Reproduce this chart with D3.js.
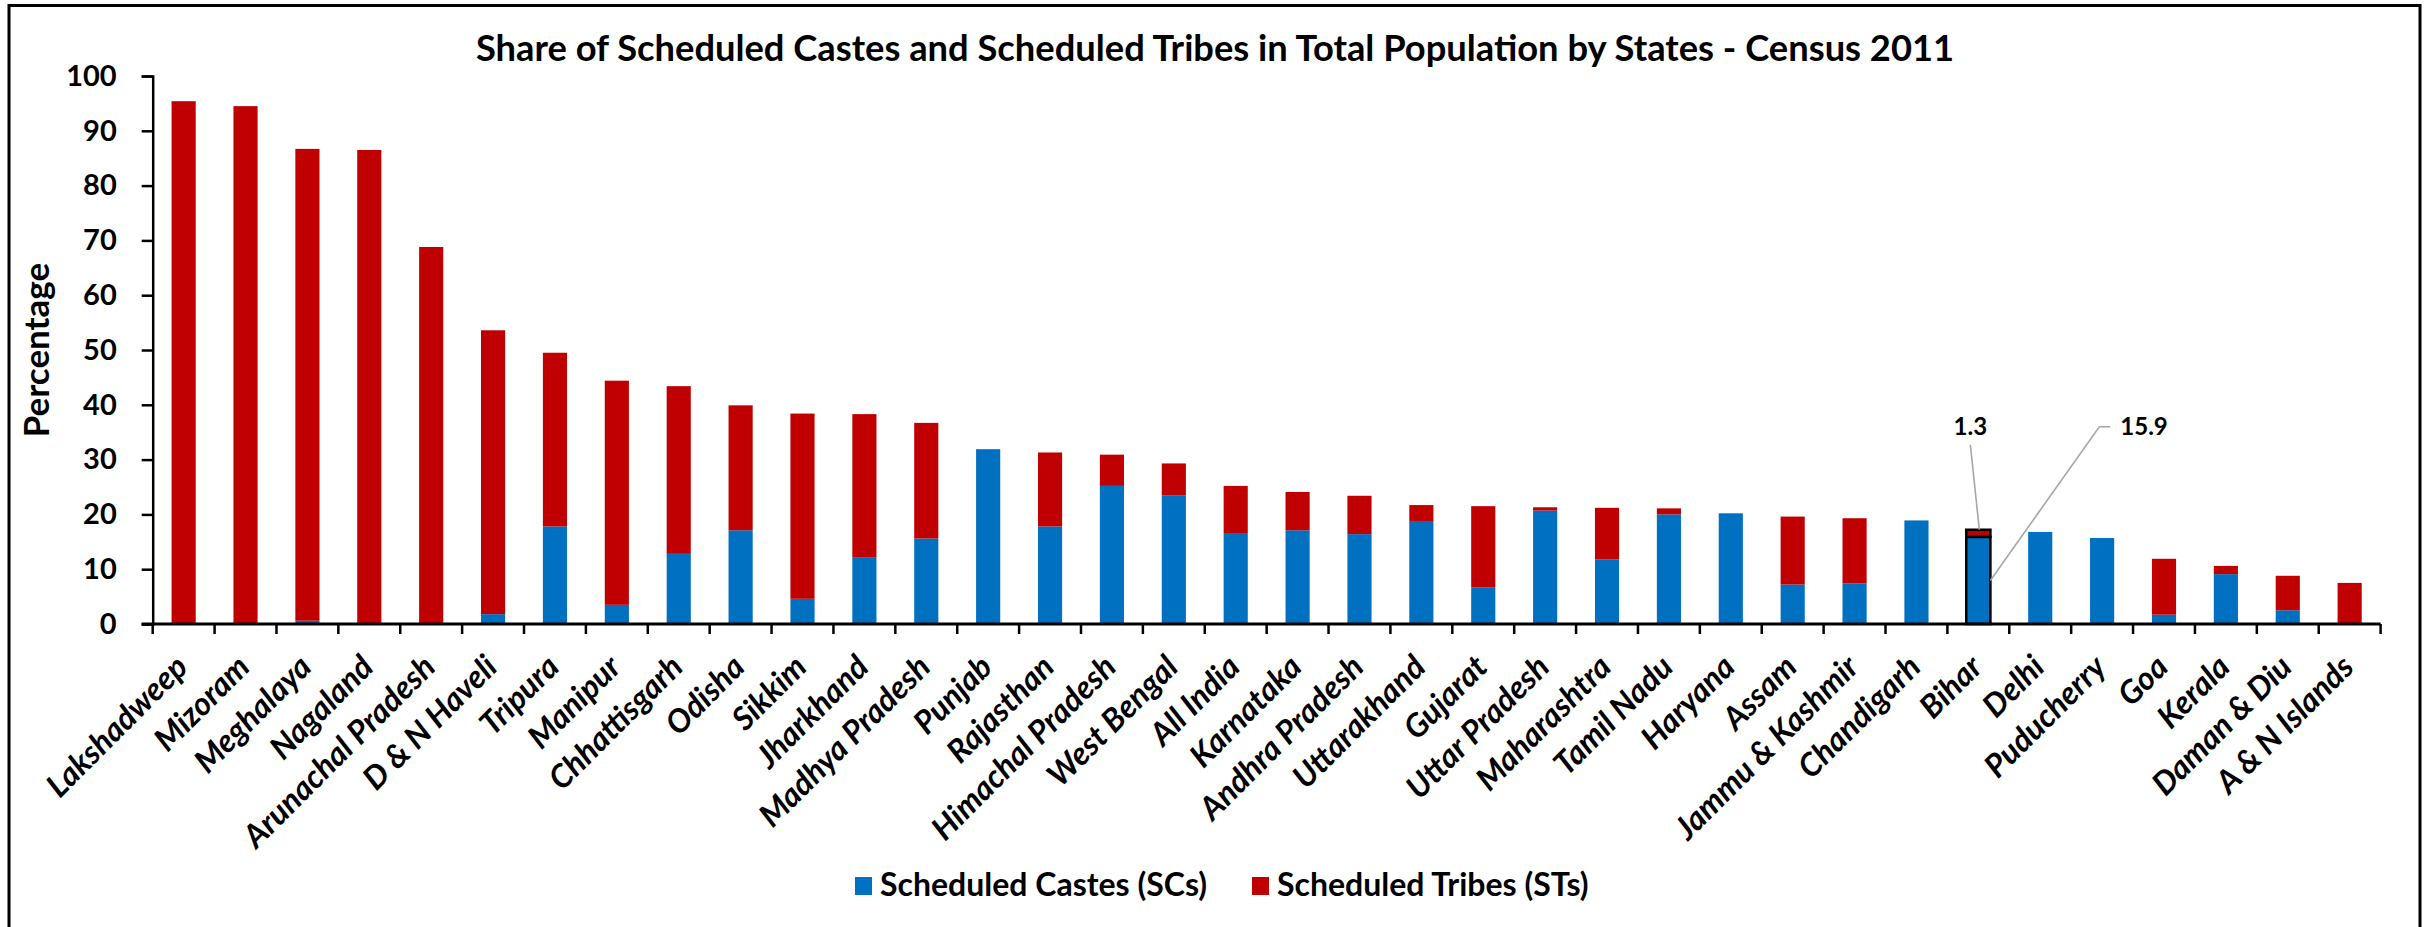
<!DOCTYPE html>
<html>
<head>
<meta charset="utf-8">
<script src="https://cdn.jsdelivr.net/npm/d3@7"></script>
<style>
  body { margin: 0; background: #fff; }
  svg { display: block; font-family: Lato, 'Open Sans', sans-serif; font-weight: bold; }
</style>
</head>
<body>
<svg id="chart" width="2435" height="927"></svg>
<script>
// Census 2011 shares.
var categories = ['Lakshadweep', 'Mizoram', 'Meghalaya', 'Nagaland', 'Arunachal Pradesh',
  'D & N Haveli', 'Tripura', 'Manipur', 'Chhattisgarh', 'Odisha', 'Sikkim', 'Jharkhand',
  'Madhya Pradesh', 'Punjab', 'Rajasthan', 'Himachal Pradesh', 'West Bengal', 'All India',
  'Karnataka', 'Andhra Pradesh', 'Uttarakhand', 'Gujarat', 'Uttar Pradesh', 'Maharashtra',
  'Tamil Nadu', 'Haryana', 'Assam', 'Jammu & Kashmir', 'Chandigarh', 'Bihar', 'Delhi',
  'Puducherry', 'Goa', 'Kerala', 'Daman & Diu', 'A & N Islands'];
var scValues = [0, 0.1, 0.6, 0, 0, 1.8, 17.8, 3.5, 12.8, 17.1, 4.6, 12.1,
  15.6, 31.9, 17.8, 25.2, 23.5, 16.6, 17.1, 16.4, 18.8, 6.7, 20.7, 11.8,
  20.0, 20.2, 7.2, 7.4, 18.9, 15.9, 16.8, 15.7, 1.7, 9.1, 2.5, 0];
var stValues = [95.4, 94.4, 86.1, 86.5, 68.8, 51.8, 31.7, 40.9, 30.6, 22.8, 33.8, 26.2,
  21.1, 0, 13.5, 5.7, 5.8, 8.6, 7.0, 7.0, 2.9, 14.8, 0.6, 9.4,
  1.1, 0, 12.4, 11.9, 0, 1.3, 0, 0, 10.2, 1.5, 6.3, 7.5];
var yTicks = [0, 10, 20, 30, 40, 50, 60, 70, 80, 90, 100];
var seriesKeys = ['sc', 'st'];
var seriesNames = ['Scheduled Castes (SCs)', 'Scheduled Tribes (STs)'];
var seriesColors = ['#0070C0', '#C00000'];
var highlight = 'Bihar';

(function() {
  var svg = d3.select('#chart');
  var plotLeft = 152.7, plotRight = 2380.6, plotTop = 76, plotBottom = 624;

  var rows = categories.map(function(c, i) {
    return { name: c, sc: scValues[i], st: stValues[i] };
  });

  var x = d3.scaleBand()
    .domain(categories)
    .range([plotLeft, plotRight])
    .paddingInner(0.61)
    .paddingOuter(0.305);
  var y = d3.scaleLinear().domain([0, 100]).range([plotBottom, plotTop]);
  var color = d3.scaleOrdinal().domain(seriesKeys).range(seriesColors);

  // outer frame (bottom edge falls outside the picture)
  svg.append('rect')
    .attr('x', 9).attr('y', 5.5)
    .attr('width', 2411).attr('height', 940)
    .attr('fill', 'none').attr('stroke', '#000').attr('stroke-width', 3);

  svg.append('text')
    .attr('x', 1215).attr('y', 61)
    .attr('text-anchor', 'middle')
    .attr('font-size', 36.3)
    .text('Share of Scheduled Castes and Scheduled Tribes in Total Population by States - Census 2011');

  // stacked bars
  var stacked = d3.stack().keys(seriesKeys)(rows);
  svg.append('g').selectAll('g')
    .data(stacked)
    .enter().append('g')
      .attr('fill', function(s) { return color(s.key); })
    .selectAll('rect')
    .data(function(s) { return s; })
    .enter().append('rect')
      .attr('x', function(d) { return x(d.data.name); })
      .attr('width', x.bandwidth())
      .attr('y', function(d) { return y(d[1]); })
      .attr('height', function(d) { return y(d[0]) - y(d[1]); })
      .attr('stroke', function(d) { return d.data.name == highlight ? '#000' : null; })
      .attr('stroke-width', 2.5);

  // y axis
  var yAxis = svg.append('g')
    .attr('transform', 'translate(' + plotLeft + ',0)')
    .call(d3.axisLeft(y).tickValues(yTicks).tickSize(11).tickPadding(25));
  yAxis.select('.domain').attr('stroke-width', 2.5);
  yAxis.selectAll('.tick line').attr('stroke-width', 2.5);
  yAxis.selectAll('.tick text')
    .attr('font-size', 29)
    .attr('font-family', 'Lato, sans-serif')
    .attr('font-weight', 'bold')
    .attr('fill', '#000');

  // x axis: Excel style ticks between categories
  var half = (x.step() - x.bandwidth()) / 2;
  var edges = categories.map(function(c) { return x(c) - half; }).concat([plotRight]);
  var xAxis = svg.append('g');
  xAxis.append('line')
    .attr('x1', plotLeft - 11).attr('x2', plotRight)
    .attr('y1', plotBottom).attr('y2', plotBottom)
    .attr('stroke', '#000').attr('stroke-width', 3);
  xAxis.selectAll('.xtick')
    .data(edges)
    .enter().append('line')
      .attr('class', 'xtick')
      .attr('x1', function(d) { return d; }).attr('x2', function(d) { return d; })
      .attr('y1', plotBottom).attr('y2', plotBottom + 10)
      .attr('stroke', '#000').attr('stroke-width', 2.5);
  xAxis.selectAll('.xlabel')
    .data(categories)
    .enter().append('text')
      .attr('class', 'xlabel')
      .attr('transform', function(d) {
        return 'translate(' + (x(d) + x.bandwidth() / 2 + 6) + ',' + (plotBottom + 45) + ') rotate(-45)';
      })
      .attr('text-anchor', 'end')
      .attr('font-size', 32)
      .attr('font-style', 'italic')
      .text(function(d) { return d; });

  svg.append('text')
    .attr('transform', 'translate(49,350) rotate(-90)')
    .attr('text-anchor', 'middle')
    .attr('font-size', 35)
    .text('Percentage');

  // data labels for the highlighted bar
  var hi = categories.indexOf(highlight);
  var hx = x(highlight) + x.bandwidth() / 2;
  var hTop = y(scValues[hi] + stValues[hi]);
  var ann = svg.append('g').attr('stroke', '#a6a6a6').attr('stroke-width', 1.6).attr('fill', 'none');
  ann.append('line')
    .attr('x1', hx - 8).attr('y1', hTop - 85)
    .attr('x2', hx + 1).attr('y2', hTop);
  ann.append('polyline')
    .attr('points', [
      [hx + 132, hTop - 103],
      [hx + 121, hTop - 103],
      [x(highlight) + x.bandwidth(), y(scValues[hi] / 2)]
    ].map(function(p) { return p.join(','); }).join(' '));
  svg.append('text')
    .attr('x', hx - 8).attr('y', hTop - 95)
    .attr('text-anchor', 'middle')
    .attr('font-size', 24)
    .text(d3.format('.1f')(stValues[hi]));
  svg.append('text')
    .attr('x', hx + 142).attr('y', hTop - 95)
    .attr('font-size', 24)
    .text(d3.format('.1f')(scValues[hi]));

  // legend
  var legendX = [855, 1252];
  var legend = svg.append('g').selectAll('g')
    .data(seriesKeys)
    .enter().append('g')
      .attr('transform', function(d, i) { return 'translate(' + legendX[i] + ',877)'; });
  legend.append('rect')
    .attr('width', 17).attr('height', 18)
    .attr('fill', function(d) { return color(d); });
  legend.append('text')
    .attr('x', 25).attr('y', 19)
    .attr('font-size', 32)
    .text(function(d, i) { return seriesNames[i]; });
})();
</script>
</body>
</html>
